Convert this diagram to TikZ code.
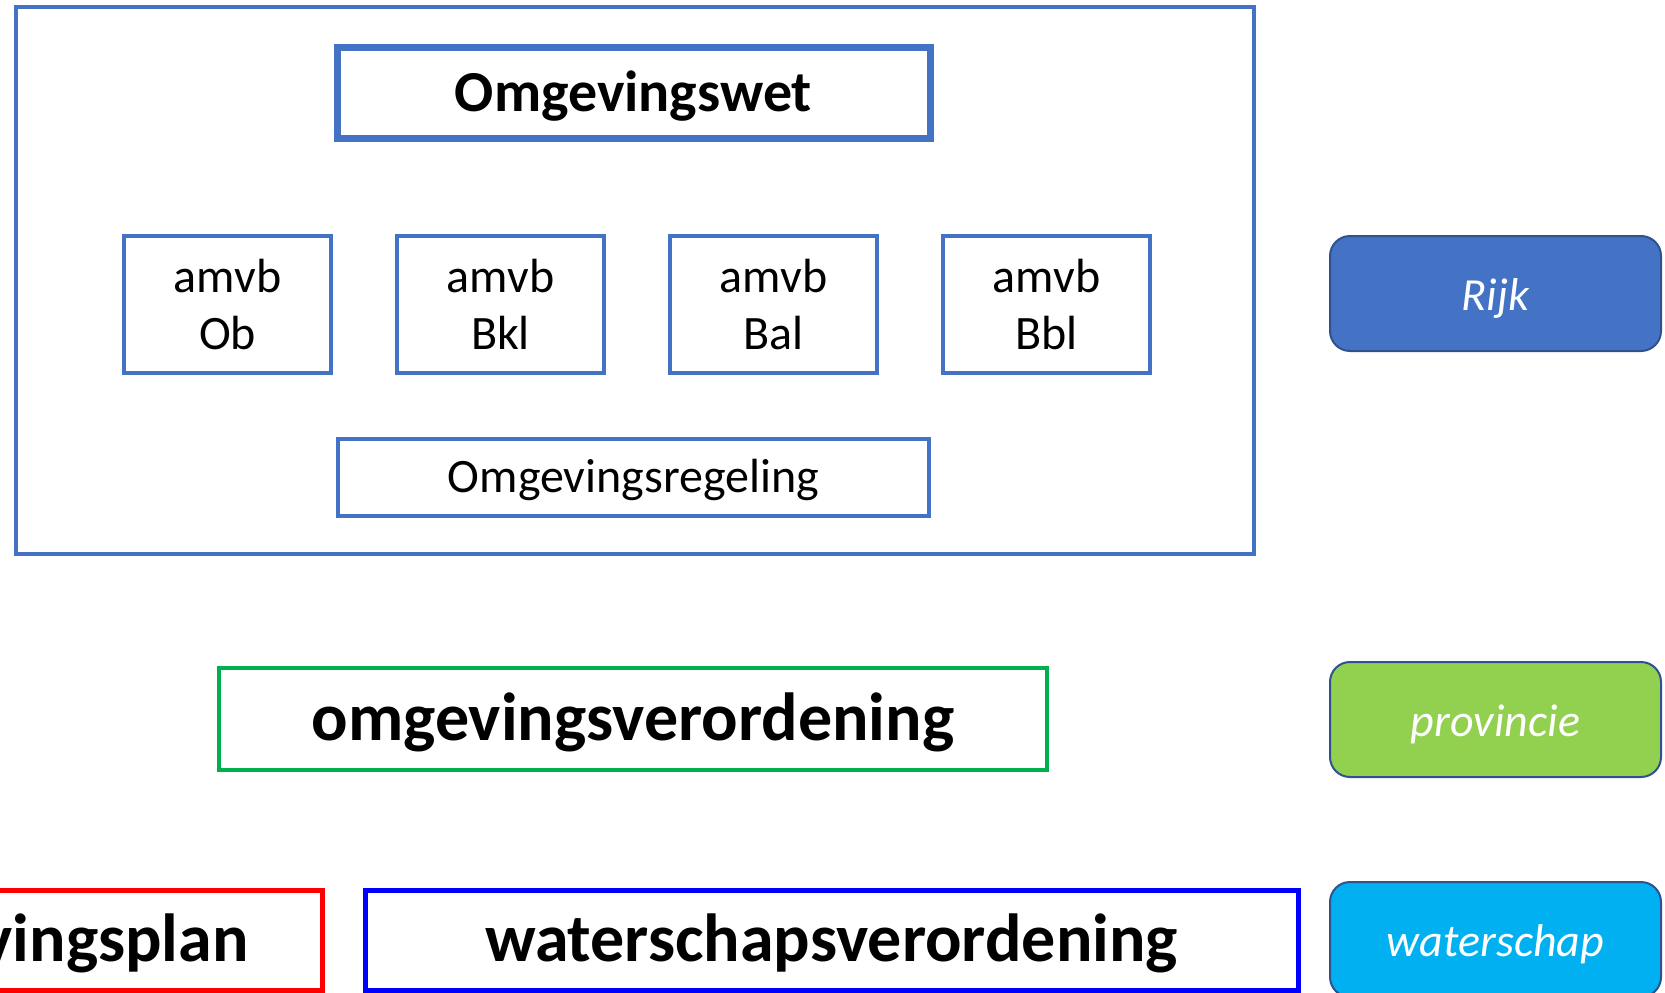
\documentclass[tikz,border=0pt]{standalone}
\usepackage{fontspec}
\setmainfont{Carlito}
\definecolor{obl}{HTML}{4472C4}
\definecolor{obd}{HTML}{2F528F}
\definecolor{ogr}{HTML}{00B050}
\definecolor{ored}{HTML}{FF0000}
\definecolor{oblu}{HTML}{0000FF}
\definecolor{ofg}{HTML}{92D050}
\definecolor{ocy}{HTML}{00B0F0}
\tikzset{
  frame/.style={draw=obl, line width=3.5pt, inner sep=0pt, outer sep=0pt},
  wetbox/.style={draw=obl, line width=7pt, inner sep=0pt, outer sep=0pt, text height=52.5pt, text depth=14.5pt, font=\fontsize{58}{70}\selectfont\bfseries},
  amvbbox/.style={draw=obl, line width=3.5pt, inner sep=0pt, outer sep=0pt, minimum width=207pt, minimum height=137pt, align=center, font=\fontsize{48}{57.6}\selectfont},
  regbox/.style={draw=obl, line width=3.5pt, inner sep=0pt, outer sep=0pt, text height=41pt, text depth=12pt, font=\fontsize{48}{57.6}\selectfont},
  bigbox/.style={line width=4.5pt, inner sep=0pt, outer sep=0pt, text height=59pt, text depth=17pt, font=\fontsize{68}{82}\selectfont\bfseries},
  levelbox/.style={draw=obd, line width=2pt, rounded corners=20pt, inner sep=0pt, outer sep=0pt, minimum width=331pt, minimum height=115pt, text height=44.5pt, text depth=11.5pt, text=white, font=\fontsize{46}{55}\selectfont\itshape}
}
\begin{document}
\begin{tikzpicture}[x=1pt,y=-1pt]
\useasboundingbox (0,0) rectangle (1665,993);
\clip (0,0) rectangle (1665,993);
\fill[white] (0,0) rectangle (1665,993);
% Rijk frame
\node[frame, minimum width=1238pt, minimum height=547pt] (rijkframe) at (635,280.5) {};
\node[wetbox, minimum width=593pt, minimum height=91pt] (wet) at (633.5,92.5) {Omgevingswet};
\node[amvbbox] (ob) at (227.5,304.5) {amvb\\Ob};
\node[amvbbox] (bkl) at (500.5,304.5) {amvb\\Bkl};
\node[amvbbox] (bal) at (773.5,304.5) {amvb\\Bal};
\node[amvbbox] (bbl) at (1046.5,304.5) {amvb\\Bbl};
\node[regbox, minimum width=591pt, minimum height=77pt] (reg) at (633.5,477.5) {Omgevingsregeling};
% provincie
\node[bigbox, draw=ogr, minimum width=828pt, minimum height=102pt] (ovr) at (633,719) {omgevingsverordening};
% gemeente / waterschap
\node[bigbox, draw=ored, line width=5pt, minimum width=572pt, minimum height=100pt] (ogp) at (36,940) {omgevingsplan};
\node[bigbox, draw=oblu, line width=5pt, minimum width=933pt, minimum height=100pt] (wsv) at (831.5,940) {waterschapsverordening};
% level labels
\node[levelbox, fill=obl] (rijk) at (1495.5,293.5) {Rijk};
\node[levelbox, fill=ofg] (prov) at (1495.5,719.5) {provincie};
\node[levelbox, fill=ocy] (ws) at (1495.5,939.5) {waterschap};
\end{tikzpicture}
\end{document}
